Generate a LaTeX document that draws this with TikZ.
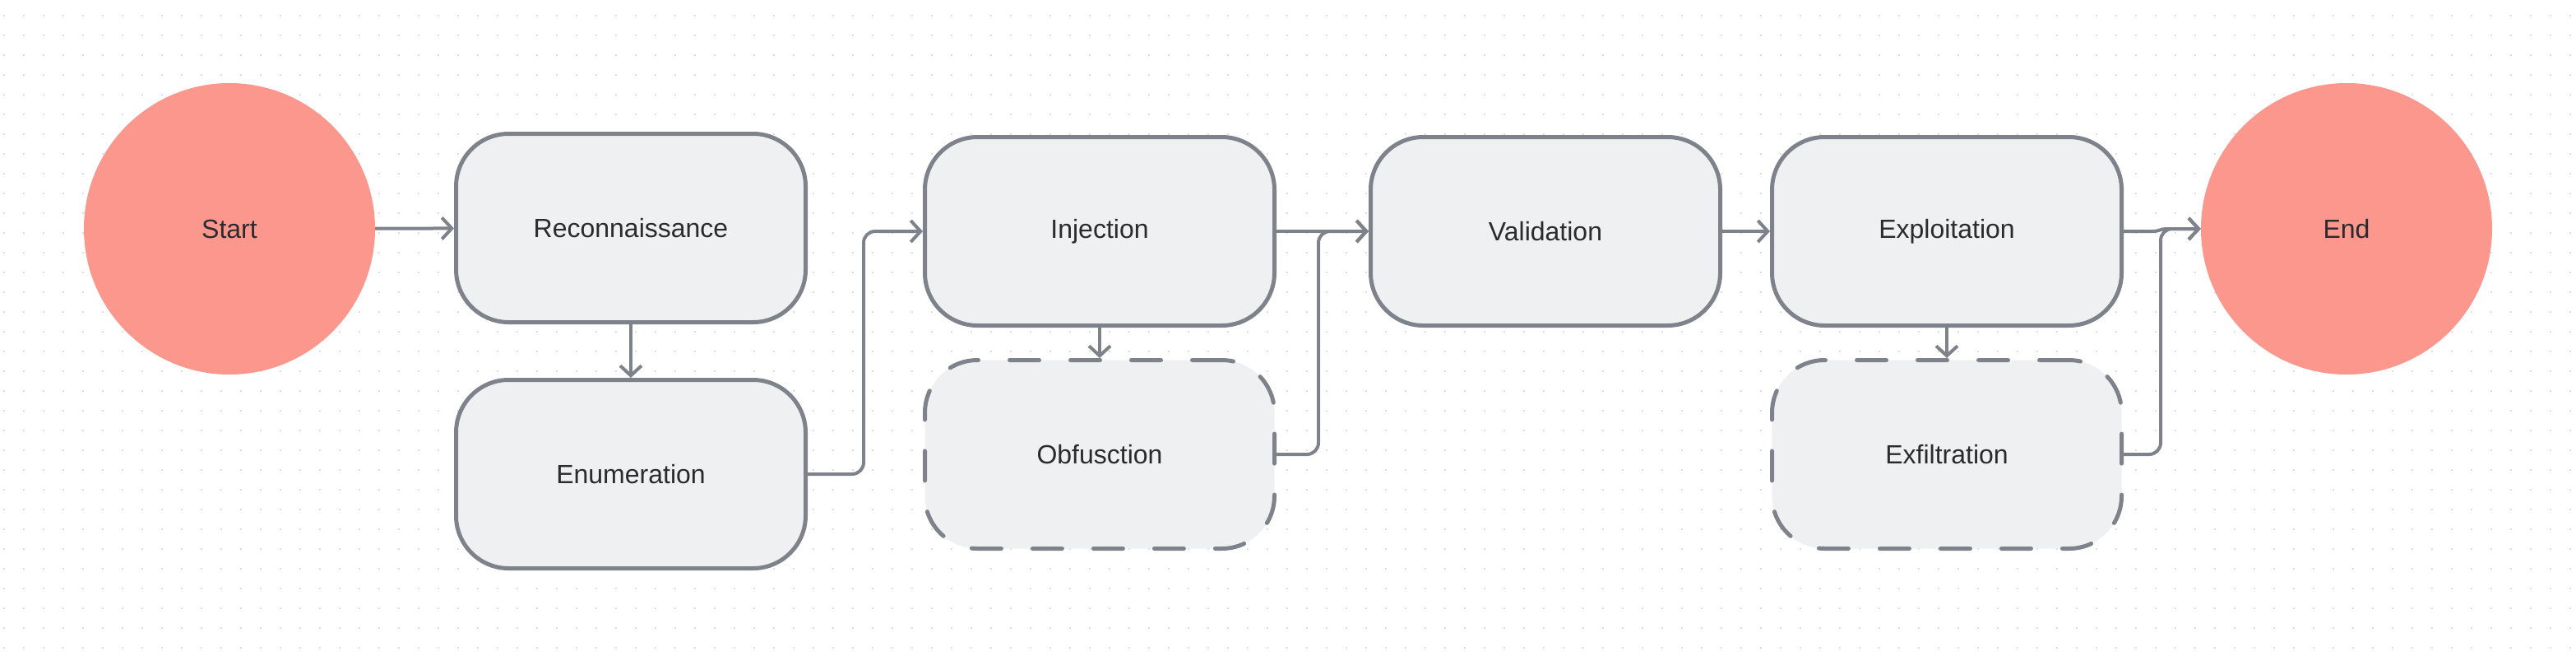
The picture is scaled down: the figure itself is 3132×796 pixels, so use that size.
\documentclass[tikz,border=0pt]{standalone}
\usepackage{fontspec}
\setmainfont{Liberation Sans}
\usetikzlibrary{arrows.meta}
\definecolor{edgegray}{HTML}{7E828A}
\definecolor{boxfill}{HTML}{EFF0F2}
\definecolor{salmon}{HTML}{FC978D}
\definecolor{ink}{HTML}{2A2B2E}
\definecolor{dotgray}{HTML}{DCDDE3}
\tikzset{
  stage/.style={draw=edgegray, line width=5pt, fill=boxfill, rounded corners=64pt,
    minimum width=425pt, minimum height=229pt, text=ink,
    font=\fontsize{32}{37}\selectfont},
  optstage/.style={stage, dash pattern=on 36pt off 38pt, line cap=round},
  terminal/.style={circle, fill=salmon, minimum size=354pt, inner sep=0pt, text=ink,
    font=\fontsize{32}{37}\selectfont},
  flow/.style={draw=edgegray, line width=4pt, rounded corners=14pt,
    -{Straight Barb[length=12pt,width=26pt]}},
}
\begin{document}
\begin{tikzpicture}[x=1pt,y=-1pt,line join=round]
  \useasboundingbox (0,0) rectangle (3132,796);
  \fill[white] (0,0) rectangle (3132,796);
  % dotted canvas
  \foreach \row in {0,...,32}
    \draw[dotgray, line width=2.5pt, dash pattern=on 2.5pt off 21.5pt]
      (3.75,19+24*\row) -- (3132,19+24*\row);

  \node[terminal] (start) at (279,278) {Start};
  \node[stage] (recon) at (767,277) {Reconnaissance};
  \node[stage] (enum) at (767,576) {Enumeration};
  \node[stage] (inj) at (1337,281) {Injection};
  \node[optstage] (obf) at (1337,552) {Obfusction};
  \node[stage] (valid) at (1879,281) {Validation};
  \node[stage] (expl) at (2367,281) {Exploitation};
  \node[optstage] (exfil) at (2367,552) {Exfiltration};
  \node[terminal] (end) at (2853,278) {End};

  \draw[flow] (start) -- (recon);
  \draw[flow] (recon) -- (enum);
  \draw[flow] (enum.east) -- ++(68,0) |- (inj.west);
  \draw[flow] (inj) -- (obf);
  \draw[flow] (inj) -- (valid);
  \draw[flow] (obf.east) -- ++(51,0) |- (valid.west);
  \draw[flow] (valid) -- (expl);
  \draw[flow] (expl) -- (exfil);
  \draw[flow, rounded corners=0pt] (expl.east) -- ++(36,0)
    to[out=0,in=180] ++(16,-3) -- (end.west);
  \draw[flow] (exfil.east) -- ++(45,0) |- (end.west);
\end{tikzpicture}
\end{document}
